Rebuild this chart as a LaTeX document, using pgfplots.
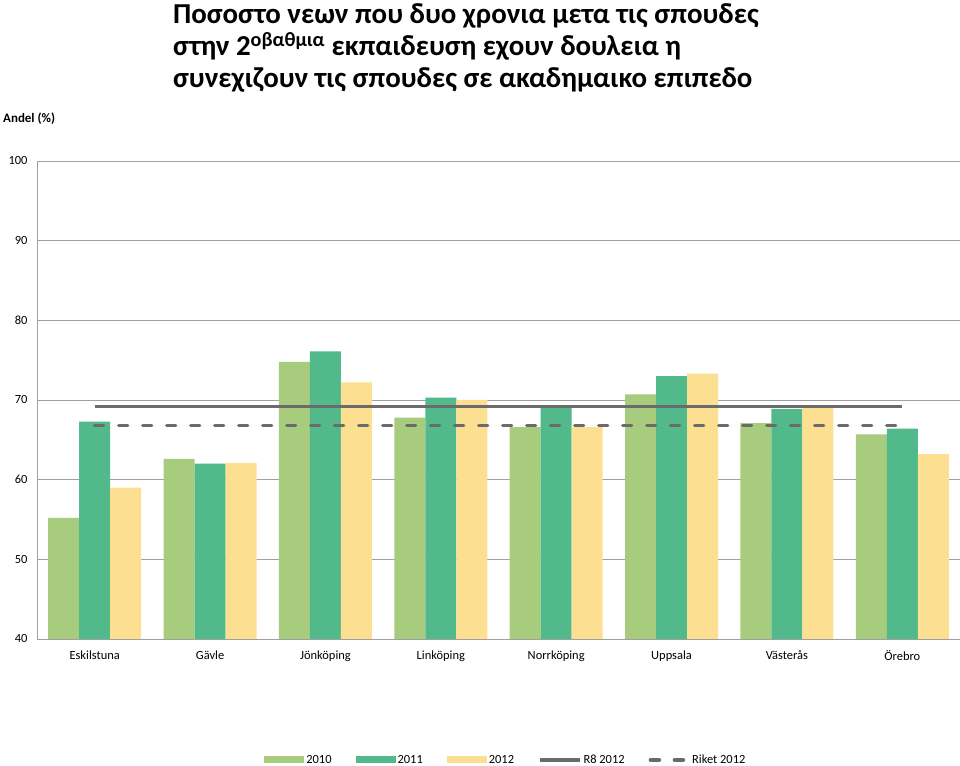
\documentclass[border=0pt]{standalone}
\usepackage{pgfplots}
\pgfplotsset{compat=1.18}
\usepackage{fontspec}
\setmainfont{Carlito}
\definecolor{c2010}{HTML}{A7CC7E}
\definecolor{c2011}{HTML}{51B98A}
\definecolor{c2012}{HTML}{FDDF92}
\definecolor{gridc}{HTML}{A0A0A0}
\definecolor{linec}{HTML}{6B6B6B}
\begin{document}
\begin{tikzpicture}
\path[use as bounding box] (0,0) rectangle (960bp,766bp);
\node[anchor=north west, align=left, inner sep=0pt, font=\bfseries\fontsize{29}{32.5}\selectfont] at (173bp,763bp)
{Ποσοστο νεων που δυο χρονια μετα τις σπουδες\\
στην 2\textsuperscript{οβαθμια} εκπαιδευση εχουν δουλεια η\\
συνεχιζουν τις σπουδες σε ακαδημαικο επιπεδο};
\node[anchor=west, inner sep=0pt, font=\bfseries\fontsize{13}{15}\selectfont] at (3bp,647bp) {Andel (\%)};
\begin{axis}[
  at={(37bp,127bp)}, anchor=south west,
  scale only axis, width=923bp, height=478bp,
  xmin=-0.5, xmax=7.5, ymin=40, ymax=100,
  ytick={40,50,...,100},
  xtick={0,...,7},
  xticklabels={Eskilstuna,Gävle,Jönköping,Linköping,Norrköping,Uppsala,Västerås,Örebro},
  major tick length=0pt,
  ymajorgrids, grid style={draw=gridc, line width=0.8bp},
  axis lines*=left, axis line style={-, draw=gridc, line width=0.8bp},
  /pgf/number format/assume math mode=true,
  tick label style={font=\fontsize{12.5}{14}\selectfont},
  yticklabel style={xshift=-6bp},
  xticklabel style={yshift=-8bp},
  legend columns=5,
  legend style={at={(0.508,-0.253)}, anchor=center, draw=none, fill=none,
    font=\fontsize{12.5}{14}\selectfont,
    /tikz/every even column/.append style={column sep=22bp}},
]
\addplot[ybar, bar width=31bp, bar shift=-31bp, fill=c2010, draw=none,
  legend image code/.code={\fill[c2010] (0bp,-3.5bp) rectangle (40bp,3.5bp);}]
  coordinates {(0,55.2) (1,62.6) (2,74.8) (3,67.8) (4,66.6) (5,70.7) (6,67.1) (7,65.7)};
\addlegendentry{2010}
\addplot[ybar, bar width=31bp, bar shift=0bp, fill=c2011, draw=none,
  legend image code/.code={\fill[c2011] (0bp,-3.5bp) rectangle (40bp,3.5bp);}]
  coordinates {(0,67.3) (1,62.0) (2,76.1) (3,70.3) (4,69.2) (5,73.0) (6,68.9) (7,66.4)};
\addlegendentry{2011}
\addplot[ybar, bar width=31bp, bar shift=31bp, fill=c2012, draw=none,
  legend image code/.code={\fill[c2012] (0bp,-3.5bp) rectangle (40bp,3.5bp);}]
  coordinates {(0,59.0) (1,62.1) (2,72.2) (3,70.0) (4,66.6) (5,73.3) (6,69.2) (7,63.2)};
\addlegendentry{2012}
\addplot[sharp plot, draw=linec, line width=3.5bp, mark=none,
  legend image code/.code={\draw[linec, line width=3.5bp] (0bp,0bp) -- (40bp,0bp);}]
  coordinates {(0,69.2) (7,69.2)};
\addlegendentry{R8 2012}
\addplot[sharp plot, draw=linec, line width=3.5bp, mark=none, line cap=round, dash pattern=on 9bp off 15bp,
  legend image code/.code={\draw[linec, line width=3.5bp, line cap=round, dash pattern=on 9bp off 15bp] (2bp,0bp) -- (40bp,0bp);}]
  coordinates {(0,66.8) (7,66.8)};
\addlegendentry{Riket 2012}
\end{axis}
\end{tikzpicture}
\end{document}
